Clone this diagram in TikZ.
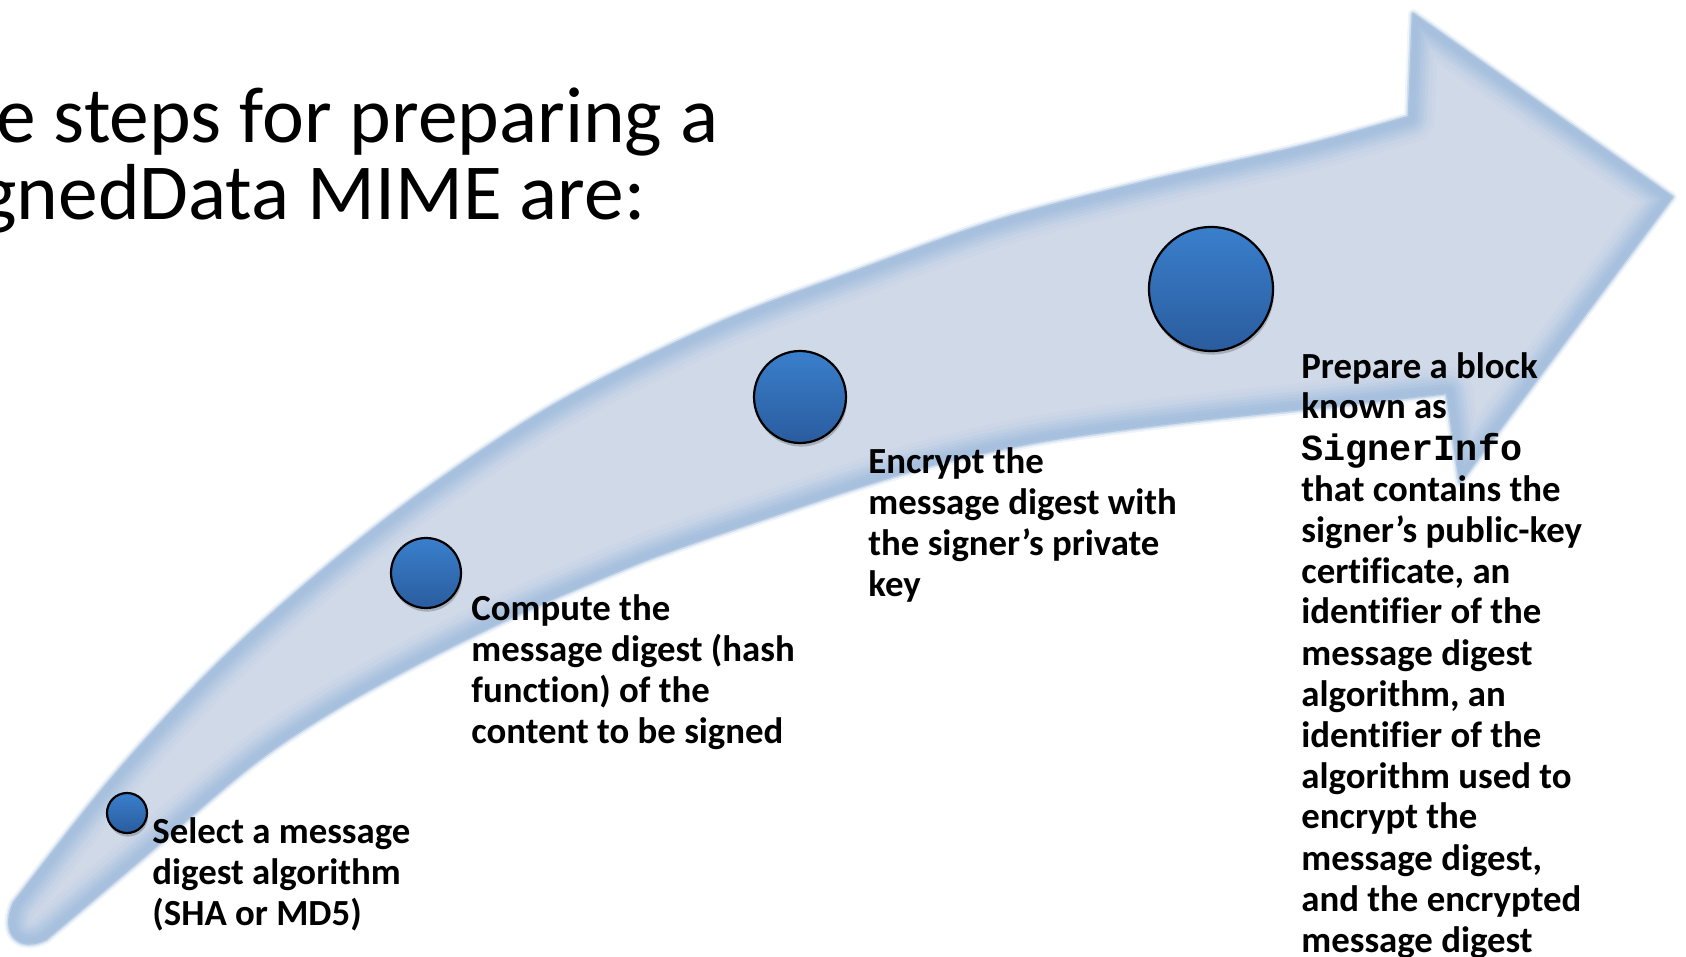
\documentclass[tikz,border=0pt]{standalone}
\usepackage{fontspec}
\setmainfont{Carlito}[Ligatures=NoCommon]
\newfontfamily\codefont{Liberation Mono}
\usetikzlibrary{shadows}

\definecolor{arrowfill}{RGB}{208,217,232}
\definecolor{arrowedge}{RGB}{166,192,222}
\definecolor{dottop}{RGB}{58,127,204}
\definecolor{dotbot}{RGB}{42,92,158}

% outline of the curved process arrow (units: 1 = 0.5pt)
\newcommand\arrowoutline{%
  plot[smooth,tension=0.55] coordinates {(14,903) (110,781) (214,668) (321,572)
     (430,487) (560,402) (720,323) (860,270) (1000,220) (1150,181) (1300,147) (1409,117)}
  -- (1413,14) -- (1672,197) -- (1460,482)
  -- plot[smooth,tension=0.55] coordinates {(1447,393) (1320,407) (1180,422)
     (1047,440) (947,461) (867,484) (780,513) (680,547) (620,570) (520,613)
     (420,662) (330,712) (250,766) (143,857) (46,939)}
  .. controls (20,952) and (0,935) .. (14,903) -- cycle}

\begin{document}
\begin{tikzpicture}[x=0.5pt,y=-0.5pt,
  stepdot/.style={circle, draw=black, line width=1.1pt, top color=dottop,
    bottom color=dotbot, inner sep=0pt,
    drop shadow={shadow xshift=0.5pt, shadow yshift=-1.8pt, opacity=0.2, fill=black}},
  steptext/.style={anchor=base west, inner sep=0pt,
    font=\fontsize{18.4}{20.5}\selectfont\bfseries},
  titletext/.style={anchor=base west, inner sep=0pt,
    font=\fontsize{39.7}{38.5}\selectfont}]

\useasboundingbox (0,0) rectangle (1686,957);
\clip (0,0) rectangle (1686,957);

% soft outer rim of the arrow
\draw[arrowedge, opacity=0.18, line width=5pt, line join=round] \arrowoutline;
\draw[arrowedge, opacity=0.4, line width=3pt, line join=round] \arrowoutline;
\draw[arrowedge, opacity=0.8, line width=1.4pt, line join=round] \arrowoutline;

% arrow body with an inner glow along its edge
\fill[arrowfill] \arrowoutline;
\begin{scope}
  \clip \arrowoutline;
  \foreach \w/\p in {26/10, 22/22, 18/38, 15/55, 12/72, 9/88, 6/100}
    \draw[arrowedge!\p!arrowfill, line width=\w pt, line join=round] \arrowoutline;
\end{scope}

% title
\node[titletext] (title1) at (-4,143) {e steps for preparing a};
\node[titletext] (title2) at (-21,220) {gnedData MIME are:};

% step markers
\node[stepdot, minimum size=20pt] (dot1) at (127,813) {};
\node[stepdot, minimum size=35pt] (dot2) at (426,573) {};
\node[stepdot, minimum size=46pt] (dot3) at (800,397) {};
\node[stepdot, minimum size=62pt] (dot4) at (1211,289) {};

% step descriptions
\node[steptext] (step1) at (152,843) {\begin{tabular}[t]{@{}l@{}}
  Select a message\\ digest algorithm\\ (SHA or MD5)\end{tabular}};
\node[steptext] (step2) at (471,620) {\begin{tabular}[t]{@{}l@{}}
  Compute the\\ message digest (hash\\ function) of the\\ content to be signed\end{tabular}};
\node[steptext] (step3) at (868,473) {\begin{tabular}[t]{@{}l@{}}
  Encrypt the\\ message digest with\\ the signer’s private\\ key\end{tabular}};
\node[steptext] (step4) at (1301,378) {\begin{tabular}[t]{@{}l@{}}
  Prepare a block\\ known as\\ {\codefont SignerInfo}\\ that contains the\\
  signer’s public-key\\ certificate, an\\ identifier of the\\ message digest\\
  algorithm, an\\ identifier of the\\ algorithm used to\\ encrypt the\\
  message digest,\\ and the encrypted\\ message digest\end{tabular}};

\end{tikzpicture}
\end{document}
